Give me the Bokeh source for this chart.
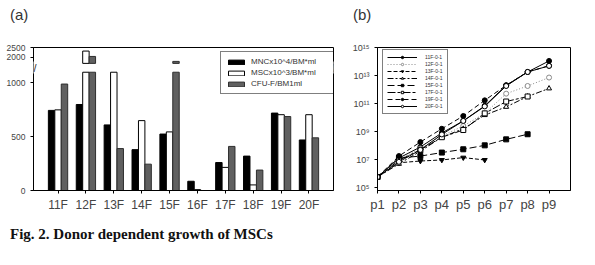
import numpy as np
from bokeh.embed import file_html
from bokeh.layouts import column, row
from bokeh.models import (ColumnDataSource, CustomJSTickFormatter, Div, FactorRange,
                          FixedTicker, Label, Legend, LegendItem, Range1d)
from bokeh.plotting import figure
from bokeh.resources import INLINE
from bokeh.transform import dodge

# ---------------- (a) cell yield per donor ----------------
donors = ["11F", "12F", "13F", "14F", "15F", "16F", "17F", "18F", "19F", "20F"]
mnc = [745, 800, 610, 380, 525, 86, 260, 320, 720, 470]      # MNC x10^4 / BM ml
msc = [750, 2320, 1400, 650, 545, 8, 215, 52, 705, 705]      # MSC x10^3 / BM ml
cfu = [990, 2050, 390, 245, 1800, 0, 410, 190, 688, 490]     # CFU-F / BM 1 ml
bar_labels = ["MNCx10^4/BM*ml", "MSCx10^3/BM*ml", "CFU-F/BM1ml"]
low_ticks = [0, 500, 1000]
high_ticks = [2000, 2500]

# ---------------- (b) cumulative cell number per passage ----------------
passages = ["p1", "p2", "p3", "p4", "p5", "p6", "p7", "p8", "p9"]
g11 = [5.8e5, 1.3e7, 8.0e7, 8.0e8, 5.8e9, 6.9e10, 2.0e12, 1.8e13, 1.1e14]
g12 = [5.8e5, 1.0e7, 6.3e7, 5.0e8, 2.5e9, 2.0e10, 5.1e11, 1.8e12, 7.2e12]
g13 = [5.8e5, 6.0e6, 8.0e6, 9.5e6, 1.4e7, 9.5e6]
g14 = [5.8e5, 5.0e6, 4.0e7, 4.0e8, 1.6e9, 1.5e10, 5.8e10, 3.2e11, 1.2e12]
g15 = [5.8e5, 1.3e7, 1.8e7, 3.2e7, 5.5e7, 1.05e8, 2.8e8, 6.5e8]
g17 = [5.8e5, 9.0e6, 5.0e7, 4.0e8, 1.3e9, 2.0e10, 1.4e11, 3.2e11]
g19 = [5.8e5, 1.8e7, 1.8e8, 1.6e9, 1.3e10, 1.7e11, 2.0e12, 1.8e13, 5.0e13]
g20 = [5.8e5, 7.0e6, 5.0e7, 6.3e8, 5.8e9, 6.3e10, 1.8e12, 1.8e13, 4.9e13]
series_names = ["11F-0-1", "12F-0-1", "13F-0-1", "14F-0-1",
                "15F-0-1", "17F-0-1", "19F-0-1", "20F-0-1"]
series_values = [g11, g12, g13, g14, g15, g17, g19, g20]
log_ticks = [1e5, 1e7, 1e9, 1e11, 1e13, 1e15]

TICK_FONT = "Liberation Sans"
GREY_TXT = "#444444"

# ---------------- broken-axis bar chart ----------------
LOW_TOP = 1100          # lower segment is cut here
HIGH_BOTTOM = 1700      # upper segment starts here
LOW_END = 1330          # lower range at the frame top
UP_START, UP_END = -4700, 2500

pa = figure(width=345, height=185, output_backend="svg", toolbar_location=None,
            x_range=FactorRange(factors=donors, range_padding=0.38,
                                range_padding_units="absolute"),
            y_range=Range1d(0, LOW_END),
            min_border_left=33, min_border_right=12, min_border_top=16,
            min_border_bottom=25)
pa.extra_y_ranges = {"upper": Range1d(UP_START, UP_END)}
pa.xgrid.visible = False
pa.ygrid.visible = False
pa.outline_line_color = "black"
pa.background_fill_color = "white"
pa.border_fill_color = "white"

low = ColumnDataSource(dict(donor=donors,
                            mnc=np.minimum(mnc, LOW_TOP),
                            msc=np.minimum(msc, LOW_TOP),
                            cfu=np.minimum(cfu, LOW_TOP)))

W = 0.231
offsets = [-W, 0.0, W]
fills = ["black", "white", "#606060"]
lines = ["black", "black", "#2e2e2e"]
cols = ["mnc", "msc", "cfu"]
raw = [mnc, msc, cfu]

bar_renderers = []
for off, fc, lc, col, vals in zip(offsets, fills, lines, cols, raw):
    r = pa.vbar(x=dodge("donor", off, range=pa.x_range), top=col, width=W,
                source=low, fill_color=fc, line_color=lc, line_width=1)
    bar_renderers.append(r)
    # part of the bar that reaches the upper segment
    big = [(d, v) for d, v in zip(donors, vals) if v > HIGH_BOTTOM]
    if big:
        hs = ColumnDataSource(dict(donor=[d for d, _ in big], top=[v for _, v in big]))
        pa.vbar(x=dodge("donor", off, range=pa.x_range), top="top", bottom=HIGH_BOTTOM,
                width=W, source=hs, fill_color=fc, line_color=lc, line_width=1,
                y_range_name="upper")


def to_low(v):
    return round((v - UP_START) / (UP_END - UP_START) * LOW_END)


ytick_pos = low_ticks + [to_low(v) for v in high_ticks]
ya = pa.yaxis[0]
ya.ticker = FixedTicker(ticks=ytick_pos)
ya.major_label_overrides = {to_low(v): str(v) for v in high_ticks}
ya.major_label_text_font_size = "8.5px"
ya.major_label_text_font = TICK_FONT
ya.major_label_text_color = GREY_TXT
ya.major_tick_out = 3
ya.major_tick_in = 0
ya.minor_tick_line_color = None
ya.axis_line_color = "black"

xa = pa.xaxis[0]
xa.major_label_text_font_size = "12px"
xa.major_label_text_font = TICK_FONT
xa.major_label_text_color = GREY_TXT
xa.major_tick_out = 3
xa.major_tick_in = 0
xa.major_label_standoff = 4
xa.axis_line_color = "black"

leg_a = Legend(items=[LegendItem(label=lab, renderers=[r])
                      for lab, r in zip(bar_labels, bar_renderers)],
               location=(187, 96), margin=0, padding=5, spacing=2,
               glyph_width=20, glyph_height=6, label_height=8, label_width=78,
               label_standoff=5, label_text_font_size="8px",
               label_text_font=TICK_FONT, label_text_color="#333333",
               border_line_color="black", border_line_width=1,
               background_fill_color="white", background_fill_alpha=1)
pa.add_layout(leg_a)

# axis-break marks on both frame edges
for xs in (0, 300):
    pa.add_layout(Label(x=xs, y=123, x_units="screen", y_units="screen", text="//",
                        text_align="center", text_baseline="middle",
                        text_font_size="11px", text_color="#333333",
                        background_fill_color="white"))

# ---------------- growth curves ----------------
pos = list(range(1, len(passages) + 1))
pb = figure(width=250, height=185, output_backend="svg", toolbar_location=None,
            x_range=Range1d(1, 10), y_range=Range1d(10 ** 4.8, 1e15),
            y_axis_type="log",
            min_border_left=32, min_border_right=25, min_border_top=17,
            min_border_bottom=25)
pb.xgrid.visible = False
pb.ygrid.visible = False
pb.outline_line_color = "black"

styles = {
    "11F-0-1": dict(dash="solid", marker="circle", fill="black", color="black"),
    "12F-0-1": dict(dash="1 2", marker="circle", fill="white", color="#8a8a8a"),
    "13F-0-1": dict(dash="4 2", marker="inverted_triangle", fill="black", color="black"),
    "14F-0-1": dict(dash="6 2 2 2", marker="triangle", fill="white", color="black"),
    "15F-0-1": dict(dash="7 3", marker="square", fill="black", color="black"),
    "17F-0-1": dict(dash="8 2 3 2", marker="square", fill="white", color="black"),
    "19F-0-1": dict(dash="5 3", marker="circle", fill="black", color="black"),
    "20F-0-1": dict(dash="solid", marker="circle", fill="white", color="black"),
}

items = []
for name, vals in zip(series_names, series_values):
    st = styles[name]
    src = ColumnDataSource(dict(x=pos[:len(vals)], y=vals))
    rl = pb.line("x", "y", source=src, line_color=st["color"], line_width=1,
                 line_dash=st["dash"])
    rs = pb.scatter("x", "y", source=src, marker=st["marker"], size=5,
                    fill_color=st["fill"], line_color=st["color"], line_width=1)
    items.append(LegendItem(label=name, renderers=[rl, rs]))

leg_b = Legend(items=items, location=(5, 76), margin=0, padding=4, spacing=1,
               glyph_width=30, glyph_height=6, label_height=6, label_width=16,
               label_standoff=8, label_text_font_size="5px",
               label_text_font=TICK_FONT, label_text_color="#333333",
               border_line_color="black", border_line_width=1,
               background_fill_color="white", background_fill_alpha=1)
pb.add_layout(leg_b)

yb = pb.yaxis[0]
yb.ticker = FixedTicker(ticks=log_ticks)
yb.formatter = CustomJSTickFormatter(code="""
const sup = {"0":"\u2070","1":"\u00b9","2":"\u00b2","3":"\u00b3","4":"\u2074",
             "5":"\u2075","6":"\u2076","7":"\u2077","8":"\u2078","9":"\u2079"};
const e = Math.round(Math.log10(tick));
return "10" + String(e).split("").map(c => sup[c]).join("");
""")
yb.major_label_text_font_size = "9px"
yb.major_label_text_font = TICK_FONT
yb.major_label_text_color = GREY_TXT
yb.major_tick_out = 3
yb.major_tick_in = 0
yb.minor_tick_line_color = None

xb = pb.xaxis[0]
xb.ticker = FixedTicker(ticks=pos)
xb.major_label_overrides = {i: lab for i, lab in zip(pos, passages)}
xb.major_label_text_font_size = "13px"
xb.major_label_text_font = TICK_FONT
xb.major_label_text_color = GREY_TXT
xb.major_tick_out = 3
xb.major_tick_in = 0
xb.minor_tick_line_color = None
xb.major_label_standoff = 3

# ---------------- panel letters and caption ----------------
letter_css = "font-family:'Liberation Sans';font-size:15px;color:#333;line-height:16px;"
div_a = Div(text=f"<div style=\"{letter_css}padding:7px 0 0 10px\">(a)</div>",
            width=350, height=30, margin=0)
div_b = Div(text=f"<div style=\"{letter_css}padding:7px 0 0 3px\">(b)</div>",
            width=245, height=30, margin=0)
caption = Div(text="<div style=\"font-family:'Liberation Serif';font-weight:bold;"
                   "font-size:15px;color:#111;line-height:17px;padding:11px 0 0 10px\">"
                   "Fig. 2. Donor dependent growth of MSCs</div>",
              width=595, height=50, margin=0)

layout = column(row(div_a, div_b), row(pa, pb), caption)

open("out.html", "w").write(file_html(layout, INLINE))
